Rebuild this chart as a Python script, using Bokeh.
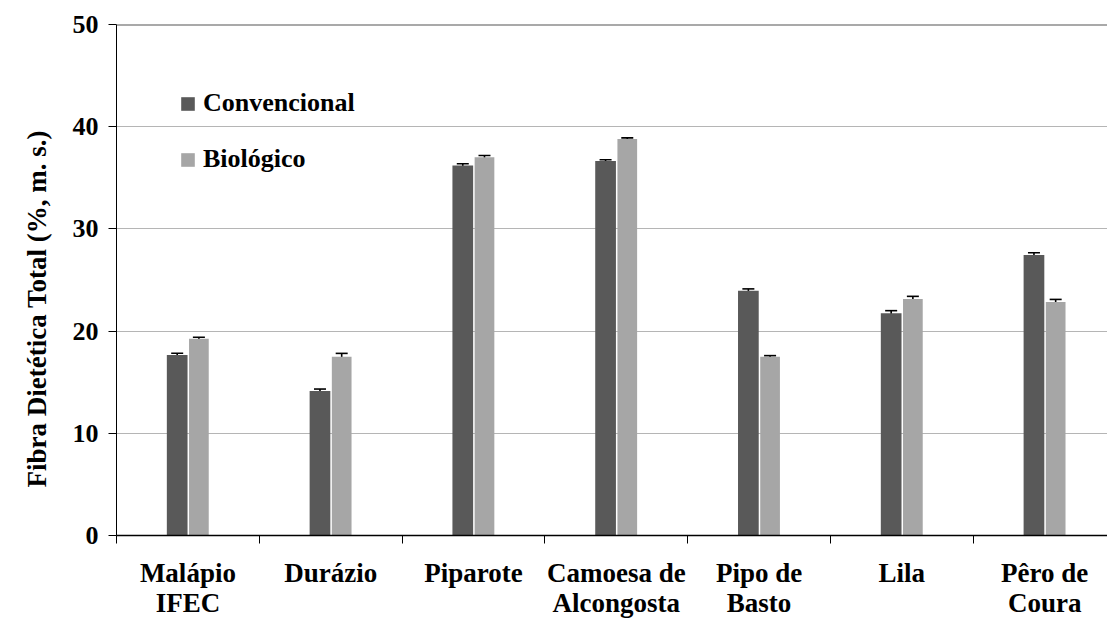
from bokeh.plotting import figure
from bokeh.models import (ColumnDataSource, Range1d, FixedTicker, Whisker, TeeHead,
                          Legend, LegendItem, Span, Title)
from bokeh.embed import file_html
from bokeh.resources import INLINE

categories = ["Malápio\nIFEC", "Durázio", "Piparote", "Camoesa de\nAlcongosta",
              "Pipo de\nBasto", "Lila", "Pêro de\nCoura"]
convencional = [17.65, 14.15, 36.2, 36.65, 23.95, 21.75, 27.45]
biologico = [19.25, 17.5, 37.0, 38.8, 17.5, 23.15, 22.85]
conv_err = [0.18, 0.18, 0.18, 0.12, 0.18, 0.25, 0.22]
bio_err = [0.15, 0.32, 0.18, 0.11, 0.1, 0.25, 0.25]
y_ticks = [0, 10, 20, 30, 40, 50]

centers = [i + 0.5 for i in range(len(categories))]
src = ColumnDataSource(dict(
    xc=[c - 0.075 for c in centers],
    xb=[c + 0.077 for c in centers],
    conv=convencional, bio=biologico,
    cu=[v + e for v, e in zip(convencional, conv_err)],
    cl=[v - e for v, e in zip(convencional, conv_err)],
    bu=[v + e for v, e in zip(biologico, bio_err)],
    bl=[v - e for v, e in zip(biologico, bio_err)],
))

FONT = "'Liberation Serif', 'Times New Roman', serif"

p = figure(width=1107, height=621, output_backend="svg", toolbar_location=None,
           x_range=Range1d(0, 6.94), y_range=Range1d(0, 50),
           min_border_left=116, min_border_right=0, min_border_top=24, min_border_bottom=86)
p.outline_line_color = None
p.background_fill_color = "white"
p.border_fill_color = "white"

rc = p.vbar(x="xc", top="conv", width=0.145, source=src, fill_color="#595959", line_color=None)
rb = p.vbar(x="xb", top="bio", width=0.138, source=src, fill_color="#A6A6A6", line_color=None)

for up, lo, base in (("cu", "cl", "xc"), ("bu", "bl", "xb")):
    w = Whisker(base=base, upper=up, lower=lo, source=src, line_color="black", line_width=1.6,
                upper_head=TeeHead(size=12, line_color="black", line_width=1.6),
                lower_head=TeeHead(size=12, line_color="black", line_width=1.6))
    p.add_layout(w)

# grid
p.xgrid.visible = False
p.ygrid.ticker = FixedTicker(ticks=[10, 20, 30, 40])
p.ygrid.grid_line_color = "#6a6a6a"
p.ygrid.grid_line_dash = "1 1"
p.ygrid.grid_line_width = 1
p.add_layout(Span(location=50, dimension="width", line_color="#555555", line_width=2))

# y axis
p.yaxis.ticker = FixedTicker(ticks=y_ticks)
p.yaxis.axis_line_color = "black"
p.yaxis.major_tick_out = 8
p.yaxis.major_tick_in = 0
p.yaxis.minor_tick_line_color = None
p.yaxis.major_label_text_font = FONT
p.yaxis.major_label_text_font_style = "bold"
p.yaxis.major_label_text_font_size = "26px"
p.yaxis.major_label_text_color = "black"
p.yaxis.major_label_standoff = 10

# x axis
p.xaxis.ticker = FixedTicker(ticks=centers, minor_ticks=list(range(len(categories))))
p.xaxis.major_label_overrides = {c: lab for c, lab in zip(centers, categories)}
p.xaxis.axis_line_color = "black"
p.xaxis.axis_line_width = 1.5
p.xaxis.major_tick_out = 0
p.xaxis.major_tick_in = 0
p.xaxis.minor_tick_out = 8
p.xaxis.minor_tick_in = 0
p.xaxis.minor_tick_line_color = "black"
p.xaxis.major_label_text_font = FONT
p.xaxis.major_label_text_font_style = "bold"
p.xaxis.major_label_text_font_size = "27px"
p.xaxis.major_label_text_color = "black"
p.xaxis.major_label_standoff = 14
p.xaxis.major_label_text_line_height = 1.02

# y title
t = Title(text="Fibra Dietética Total (%, m. s.)", align="left", offset=48,
          text_font=FONT, text_font_style="bold", text_font_size="27px", text_color="black",
          standoff=36)
p.add_layout(t, "left")

legend = Legend(items=[LegendItem(label="Convencional", renderers=[rc]),
                       LegendItem(label="Biológico", renderers=[rb])],
                location=(63, 361), orientation="vertical",
                glyph_width=17, glyph_height=17, label_standoff=7, spacing=26,
                padding=0, margin=0, border_line_color=None, background_fill_alpha=0,
                label_text_font=FONT, label_text_font_style="bold",
                label_text_font_size="26px", label_text_color="black")
p.add_layout(legend)

open("out.html", "w").write(file_html(p, INLINE))
